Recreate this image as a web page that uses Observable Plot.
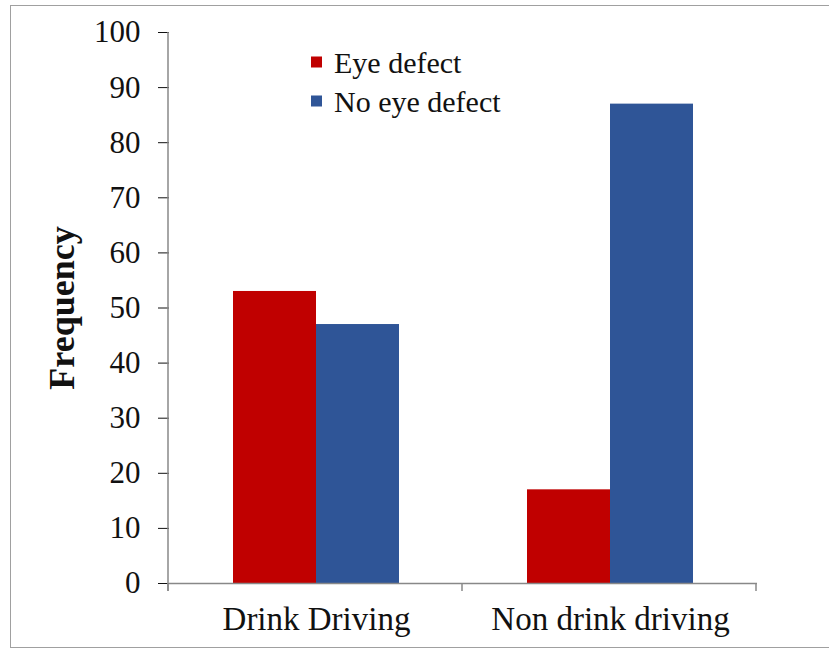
<!DOCTYPE html>
<html>
<head>
<meta charset="utf-8">
<script src="https://cdn.jsdelivr.net/npm/d3@7"></script>
<script src="https://cdn.jsdelivr.net/npm/@observablehq/plot@0.6"></script>
<style>
  body { margin: 0; background: #fff; }
  #wrap { position: relative; width: 829px; height: 649px; overflow: hidden; background: #fff; }
  #border { position: absolute; left: 10px; top: 5px; width: 900px; height: 641px; border: 1.5px solid #a0a0a0; pointer-events: none; }
  #wrap svg { position: absolute; left: 0; top: 0; }
</style>
</head>
<body>
<div id="wrap"><div id="border"></div></div>
<script>
const categories = ["Drink Driving", "Non drink driving"];
const series = ["Eye defect", "No eye defect"];
const eyeDefect = [53, 17];
const noEyeDefect = [47, 87];
const yTicks = [0, 10, 20, 30, 40, 50, 60, 70, 80, 90, 100];
const colors = ["#C00000", "#2F5597"];
const yLabel = "Frequency";

const data = categories.flatMap((category, i) => [
  {category, series: series[0], value: eyeDefect[i]},
  {category, series: series[1], value: noEyeDefect[i]}
]);

const font = "'Liberation Serif', 'Times New Roman', serif";
const axisGrey = "#888888";

const plot = Plot.plot({
  width: 829,
  height: 649,
  marginLeft: 168,
  marginRight: 72,
  marginTop: 32,
  marginBottom: 66,
  style: {fontFamily: font, background: "transparent", color: "#111"},
  fx: {domain: categories, padding: 0},
  x: {domain: series, paddingInner: 0, paddingOuter: 0.7635, axis: null},
  y: {domain: [0, 100]},
  color: {domain: series, range: colors},
  marks: [
    Plot.barY(data, {fx: "category", x: "series", y: "value", fill: "series"}),
    Plot.ruleY([0], {stroke: axisGrey, strokeWidth: 1.5}),
    Plot.axisY({ticks: yTicks, tickSize: 11, tickPadding: 18, fontSize: 31, label: yLabel, labelAnchor: "center", labelOffset: 121}),
    Plot.axisFx({anchor: "bottom", tickSize: 0, tickPadding: 23, fontSize: 33, label: null})
  ]
});

const svg = d3.select(plot);
svg.selectAll('g[aria-label="y-axis tick"]').attr("stroke", axisGrey);
svg.selectAll('g[aria-label="y-axis label"]').style("font-weight", "bold").style("font-size", "36px")
  .selectAll("text").text(yLabel);

const fx = plot.scale("fx");
const y = plot.scale("y");
const [r0, r1] = fx.range;
const y0 = y.apply(0), y100 = y.apply(100);
const extra = svg.append("g").attr("stroke", axisGrey).attr("stroke-width", 1.5);
// y-axis line
extra.append("line").attr("x1", r0).attr("x2", r0).attr("y1", y100).attr("y2", y0 + 8);
// category boundary ticks
for (let i = 0; i <= categories.length; i++) {
  const xb = r0 + i * fx.step;
  extra.append("line").attr("x1", xb).attr("x2", xb).attr("y1", y0).attr("y2", y0 + 8);
}

// legend
const color = plot.scale("color");
const leg = svg.append("g").attr("font-family", font).attr("font-size", 30).attr("fill", "#111").attr("text-anchor", "start");
series.forEach((s, i) => {
  const cy = 62 + i * 39;
  leg.append("rect").attr("x", 311).attr("y", cy - 5.5).attr("width", 11).attr("height", 11).attr("fill", color.apply(s));
  leg.append("text").attr("x", 334).attr("y", cy).attr("dy", "0.35em").text(s);
});

document.getElementById("wrap").appendChild(plot);
</script>
</body>
</html>
